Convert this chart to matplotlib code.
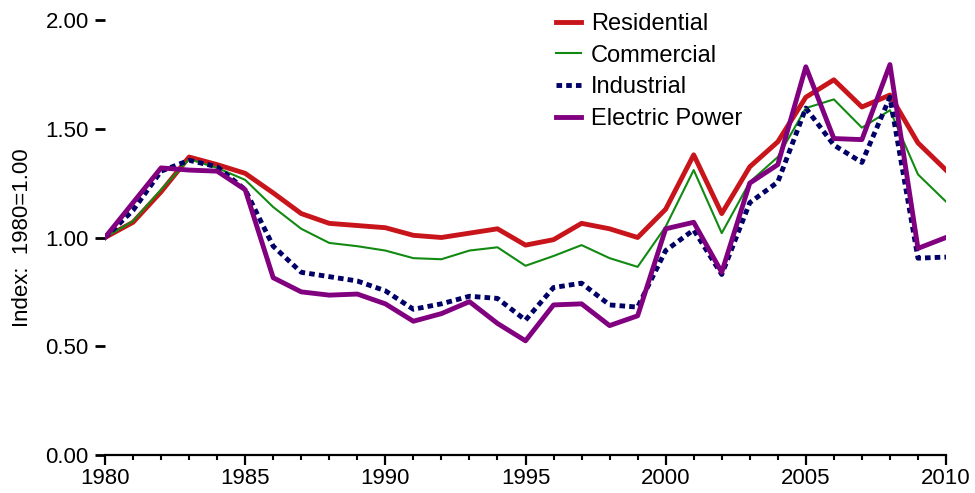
import matplotlib
matplotlib.use("Agg")
import matplotlib.pyplot as plt
from matplotlib.ticker import MultipleLocator, FixedLocator, FormatStrFormatter

years = list(range(1980, 2011))
residential = [1.00, 1.07, 1.21, 1.37, 1.335, 1.295, 1.205, 1.11, 1.065, 1.055, 1.045,
               1.01, 1.00, 1.02, 1.04, 0.965, 0.99, 1.065, 1.04, 1.00, 1.13,
               1.38, 1.11, 1.325, 1.44, 1.645, 1.725, 1.60, 1.655, 1.435, 1.31]
commercial = [1.00, 1.075, 1.22, 1.36, 1.32, 1.265, 1.14, 1.04, 0.975, 0.96, 0.94,
              0.905, 0.90, 0.94, 0.955, 0.87, 0.915, 0.965, 0.905, 0.865, 1.05,
              1.31, 1.02, 1.255, 1.37, 1.595, 1.635, 1.505, 1.585, 1.29, 1.165]
industrial = [1.00, 1.125, 1.305, 1.355, 1.325, 1.22, 0.96, 0.84, 0.82, 0.80, 0.755,
              0.67, 0.695, 0.73, 0.72, 0.62, 0.77, 0.79, 0.69, 0.68, 0.94,
              1.035, 0.83, 1.16, 1.255, 1.595, 1.425, 1.345, 1.645, 0.905, 0.91]
electric = [1.00, 1.16, 1.32, 1.31, 1.305, 1.22, 0.815, 0.75, 0.735, 0.74, 0.695,
            0.615, 0.65, 0.705, 0.605, 0.525, 0.69, 0.695, 0.595, 0.64, 1.04,
            1.07, 0.84, 1.25, 1.335, 1.785, 1.455, 1.45, 1.795, 0.95, 1.00]

plt.rcParams['font.family'] = ['Liberation Sans', 'DejaVu Sans']
plt.rcParams['font.size'] = 16

fig = plt.figure(figsize=(9.75, 4.93), dpi=100)
ax = fig.add_axes([105/975, 1 - 455/493, (946 - 105)/975, (455 - 20)/493])

ax.plot(years, residential, color='#C8141B', lw=3.5, label='Residential', zorder=3)
ax.plot(years, commercial, color='#128A12', lw=1.5, label='Commercial', zorder=3)
ax.plot(years, industrial, color='#000066', lw=3.5, linestyle=(0, (1.15, 0.85)),
        label='Industrial', zorder=3)
ax.plot(years, electric, color='#800080', lw=3.5, label='Electric Power', zorder=4)

ax.set_xlim(1980, 2010)
ax.set_ylim(0, 2.0)
ax.xaxis.set_major_locator(MultipleLocator(5))
ax.xaxis.set_minor_locator(MultipleLocator(1))
ax.yaxis.set_major_locator(FixedLocator([0, 0.5, 1.0, 1.5, 2.0]))
ax.yaxis.set_major_formatter(FormatStrFormatter('%.2f'))

for s in ['top', 'right', 'left']:
    ax.spines[s].set_visible(False)
ax.spines['bottom'].set_linewidth(1.6)
ax.tick_params(axis='x', which='major', length=7.2, width=1.6, direction='out', pad=2.5, labelsize=16)
ax.tick_params(axis='x', which='minor', length=3.8, width=1.5, direction='out')
ax.tick_params(axis='y', which='major', length=7.2, width=2.0, direction='out', pad=4.5, labelsize=16)

ax.set_ylabel('Index:  1980=1.00', fontsize=16)
ax.yaxis.set_label_coords((33 - 105) / 841, 0.5)

leg = fig.legend(loc='upper left', bbox_to_anchor=(556/975, 1 - 13/493), frameon=False,
                 fontsize=17, handlelength=1.06, handletextpad=0.42, labelspacing=0.41,
                 borderpad=0, borderaxespad=0)

fig.savefig('out.png', dpi=100)
